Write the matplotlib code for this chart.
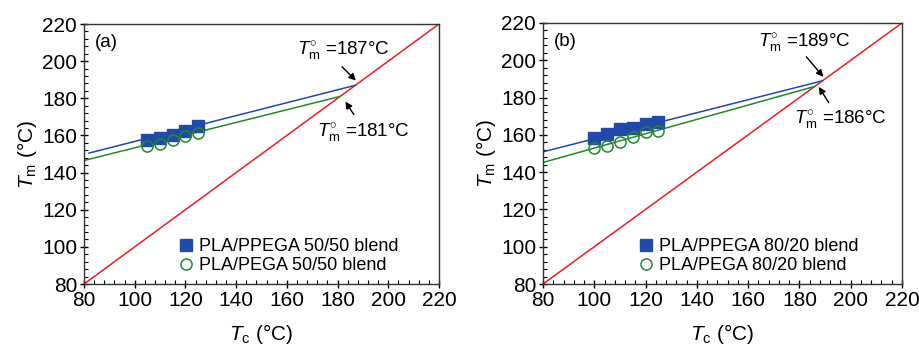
import matplotlib
matplotlib.use("agg")
import matplotlib.pyplot as plt
from matplotlib.ticker import MultipleLocator

plt.rcParams['font.family'] = ['Liberation Sans', 'DejaVu Sans']
plt.rcParams['mathtext.fontset'] = 'custom'
plt.rcParams['mathtext.rm'] = 'Liberation Sans'
plt.rcParams['mathtext.it'] = 'Liberation Sans:italic'

# panel (a): 50/50 blends
tc_a = [105, 110, 115, 120, 125]
ppega_a = [157.7, 158.6, 160.4, 162.2, 164.9]
pega_a = [154.5, 155.6, 157.4, 159.5, 161.3]
fit_ppega_a_x = [82, 187]
fit_ppega_a_y = [150.5, 187]
fit_pega_a_x = [80, 181]
fit_pega_a_y = [146.5, 181]

# panel (b): 80/20 blends
tc_b = [100, 105, 110, 115, 120, 125]
ppega_b = [158.4, 160.2, 163.0, 163.8, 165.7, 166.8]
pega_b = [152.7, 154.1, 156.1, 158.6, 161.3, 162.0]
fit_ppega_b_x = [80, 189]
fit_ppega_b_y = [150.9, 189]
fit_pega_b_x = [80, 186]
fit_pega_b_y = [145.2, 186]

diag = [80, 220]

blue = "#2149a8"
green = "#1f8a2a"
red = "#ee1c24"
fs = 15
fs_small = 13.5

fig = plt.figure(figsize=(9.19, 3.45), dpi=100)
ax_a = fig.add_axes([84 / 919, 1 - 284 / 345, 355 / 919, 260 / 345])
ax_b = fig.add_axes([543 / 919, 1 - 284 / 345, 359 / 919, 261 / 345])

panels = [
    (ax_a, "(a)", tc_a, ppega_a, pega_a, fit_ppega_a_x, fit_ppega_a_y, fit_pega_a_x, fit_pega_a_y,
     "PLA/PPEGA 50/50 blend", "PLA/PEGA 50/50 blend"),
    (ax_b, "(b)", tc_b, ppega_b, pega_b, fit_ppega_b_x, fit_ppega_b_y, fit_pega_b_x, fit_pega_b_y,
     "PLA/PPEGA 80/20 blend", "PLA/PEGA 80/20 blend"),
]

for ax, tag, tc, sq, ci, bx, by, gx, gy, lab1, lab2 in panels:
    ax.plot(diag, diag, color=red, lw=1.1)
    ax.plot(bx, by, color=blue, lw=1.1)
    ax.plot(gx, gy, color=green, lw=1.1)
    ax.plot(tc, sq, "s", color=blue, ms=8, label=lab1)
    ax.plot(tc, ci, "o", mfc="none", mec=green, mew=1.1, ms=8, label=lab2)
    ax.set_xlim(80, 220)
    ax.set_ylim(80, 220)
    ax.xaxis.set_major_locator(MultipleLocator(20))
    ax.yaxis.set_major_locator(MultipleLocator(20))
    ax.xaxis.set_minor_locator(MultipleLocator(4))
    ax.yaxis.set_minor_locator(MultipleLocator(4))
    ax.tick_params(which="major", direction="inout", length=6, width=1, labelsize=fs, pad=2)
    ax.tick_params(which="minor", direction="in", length=3, width=0.8)
    for s in ax.spines.values():
        s.set_linewidth(1)
        s.set_color("#333333")
    ax.set_xlabel(r"$T_{\rm c}$ (°C)", fontsize=fs, labelpad=9)
    ax.set_ylabel(r"$T_{\rm m}$ (°C)", fontsize=fs, labelpad=2)
    ax.text(0.03, 0.96, tag, transform=ax.transAxes, fontsize=fs_small, va="top")
    ax.legend(loc="lower left", bbox_to_anchor=(0.23, 0.0), frameon=False, fontsize=13,
              handletextpad=0.1, handlelength=1.2, labelspacing=0.1, borderaxespad=0.15)

arrow = dict(arrowstyle="-|>", color="black", lw=1, mutation_scale=10)

ax_a.annotate("", xy=(188, 188.5), xytext=(181, 198), arrowprops=arrow)
ax_a.text(164, 205, r"$T_{\rm m}^{\circ}$ =187°C", fontsize=fs_small, va="center")
ax_a.annotate("", xy=(182.5, 179.5), xytext=(187, 170), arrowprops=arrow)
ax_a.text(172, 161, r"$T_{\rm m}^{\circ}$ =181°C", fontsize=fs_small, va="center")

ax_b.annotate("", xy=(190, 190), xytext=(182, 203), arrowprops=arrow)
ax_b.text(164, 209, r"$T_{\rm m}^{\circ}$ =189°C", fontsize=fs_small, va="center")
ax_b.annotate("", xy=(187, 187), xytext=(192, 176), arrowprops=arrow)
ax_b.text(178, 168, r"$T_{\rm m}^{\circ}$ =186°C", fontsize=fs_small, va="center")

fig.savefig("out.png", dpi=100)
